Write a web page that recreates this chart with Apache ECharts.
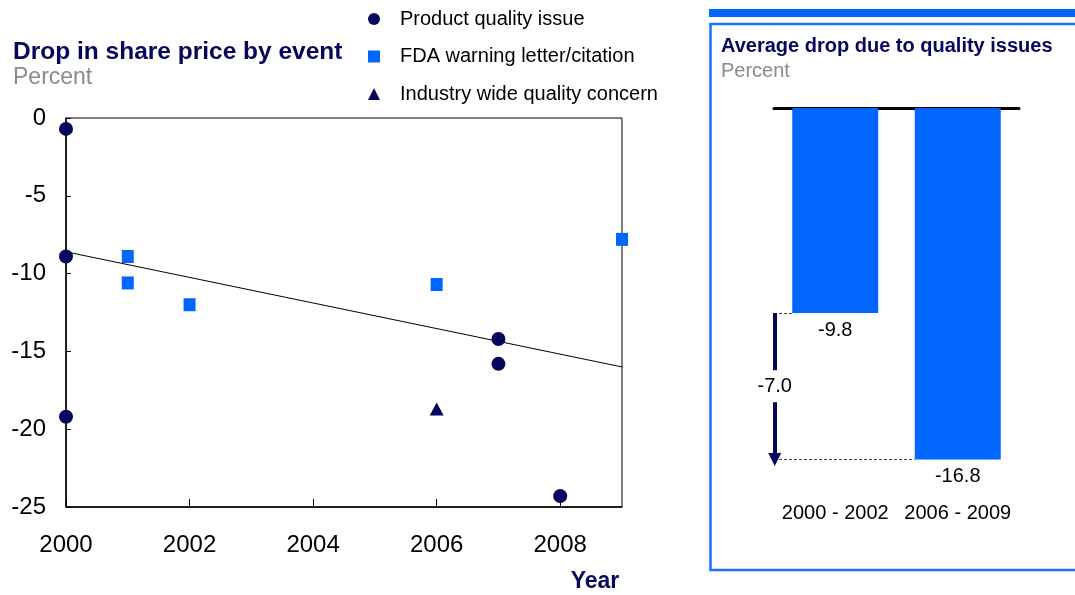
<!DOCTYPE html>
<html>
<head>
<meta charset="utf-8">
<script src="https://cdn.jsdelivr.net/npm/echarts@6/dist/echarts.min.js"></script>
<style>
  html, body { margin: 0; padding: 0; background: #fff; }
  #chart { width: 1075px; height: 595px; }
</style>
</head>
<body>
<div id="chart"></div>
<script>
// ---- Data (left chart: drop in share price by event) ----
const productYears   = [2000, 2000, 2000, 2007, 2007, 2008];
const productValues  = [-0.7, -8.9, -19.2, -14.2, -15.8, -24.3];
const fdaYears       = [2001, 2001, 2002, 2006, 2009];
const fdaValues      = [-8.9, -10.6, -12.0, -10.7, -7.8];
const industryYears  = [2006];
const industryValues = [-18.7];
const trendYears     = [2000, 2009];
const trendValues    = [-8.6, -16.0];
const xTicks         = [2000, 2002, 2004, 2006, 2008];
const yTicks         = [0, -5, -10, -15, -20, -25];
const seriesNames    = ['Product quality issue', 'FDA warning letter/citation', 'Industry wide quality concern'];

// ---- Data (right chart: average drop due to quality issues) ----
const periods  = ['2000 - 2002', '2006 - 2009'];
const averages = [-9.8, -16.8];

const FONT = 'Liberation Sans, Arial, sans-serif';
const NAVY = '#06065c';
const BLUE = '#0066ff';
const GREY = '#8a8a8a';

const pairs = (xs, ys) => xs.map((x, i) => [x, ys[i]]);
const diff = (averages[1] - averages[0]).toFixed(1);
const mid = (averages[0] + averages[1]) / 2;
// hidden helper value axis over the right grid: category i spans [i, i+1]
const halfBar = 43 / 122.5;
const arrowX = 0.006;
const guideStart = 0;

const chart = echarts.init(document.getElementById('chart'), null, { renderer: 'canvas' });

const option = {
  animation: false,
  textStyle: { fontFamily: FONT },
  title: [
    { text: 'Drop in share price by event', left: 13, top: 40, padding: 0,
      textStyle: { fontFamily: FONT, fontSize: 24.5, fontWeight: 'bold', color: NAVY, lineHeight: 24 } },
    { text: 'Percent', left: 13, top: 66, padding: 0,
      textStyle: { fontFamily: FONT, fontSize: 23, fontWeight: 'normal', color: GREY, lineHeight: 24 } },
    { text: 'Average drop due to quality issues', left: 721, top: 36, padding: 0,
      textStyle: { fontFamily: FONT, fontSize: 20, fontWeight: 'bold', color: NAVY, lineHeight: 20 } },
    { text: 'Percent', left: 721, top: 61, padding: 0,
      textStyle: { fontFamily: FONT, fontSize: 20, fontWeight: 'normal', color: GREY, lineHeight: 20 } }
  ],
  legend: {
    orient: 'vertical',
    left: 368, top: 7,
    padding: 0,
    itemWidth: 12, itemHeight: 12,
    itemGap: 13.5,
    data: seriesNames,
    textStyle: { fontFamily: FONT, fontSize: 20, color: '#000', lineHeight: 24, padding: [0, 0, 0, 15] }
  },
  graphic: [
    { type: 'rect', shape: { x: 709, y: 9, width: 370, height: 8 }, style: { fill: BLUE }, silent: true },
    { type: 'rect', shape: { x: 710.5, y: 24, width: 400, height: 546 },
      style: { fill: 'none', stroke: '#1a72ff', lineWidth: 2.5 }, silent: true },
    { type: 'text', x: 595, y: 582,
      style: { text: 'Year', fontFamily: FONT, fontSize: 23, fontWeight: 'bold', fill: NAVY,
               align: 'center', verticalAlign: 'middle' } }
  ],
  grid: [
    { left: 66, top: 118, width: 556, height: 389, show: true, borderColor: '#000', borderWidth: 1, backgroundColor: 'transparent' },
    { left: 774, top: 108, width: 245, height: 387 }
  ],
  xAxis: [
    { type: 'value', gridIndex: 0, min: 2000, max: 2009, interval: 2, position: 'bottom',
      axisLine: { show: true, onZero: false, lineStyle: { color: '#000', width: 1.5 } },
      axisTick: { show: true, inside: true, length: 8, lineStyle: { color: '#000' } },
      splitLine: { show: false },
      axisLabel: { fontFamily: FONT, fontSize: 24, color: '#000', margin: 26, showMaxLabel: false,
        formatter: v => (xTicks.indexOf(v) >= 0 ? String(v) : '') } },
    { type: 'category', gridIndex: 1, position: 'bottom', data: periods,
      axisLine: { show: false, onZero: false }, axisTick: { show: false },
      axisLabel: { fontFamily: FONT, fontSize: 20, color: '#000', margin: 8, interval: 0 } },
    { type: 'category', gridIndex: 1, position: 'top', data: periods,
      axisLine: { show: true, onZero: false, lineStyle: { color: '#000', width: 3 } },
      axisTick: { show: false }, axisLabel: { show: false } },
    { type: 'value', gridIndex: 1, min: 0, max: 2, show: false }
  ],
  yAxis: [
    { type: 'value', gridIndex: 0, min: -25, max: 0, interval: 5,
      axisLine: { show: true, onZero: false, lineStyle: { color: '#000', width: 1.5 } },
      axisTick: { show: true, inside: true, length: 5, lineStyle: { color: '#000' } },
      splitLine: { show: false },
      axisLabel: { fontFamily: FONT, fontSize: 24, color: '#000', margin: 20,
        formatter: v => (yTicks.indexOf(v) >= 0 ? String(v) : '') } },
    { type: 'value', gridIndex: 1, min: -18.5, max: 0, show: false }
  ],
  series: [
    { name: 'trend', type: 'line', xAxisIndex: 0, yAxisIndex: 0,
      data: pairs(trendYears, trendValues), symbol: 'none', silent: true, z: 1,
      lineStyle: { color: '#000', width: 1 } },
    { name: seriesNames[0], type: 'scatter', xAxisIndex: 0, yAxisIndex: 0, clip: false,
      data: pairs(productYears, productValues), symbol: 'circle', symbolSize: 14,
      itemStyle: { color: NAVY, opacity: 1 } },
    { name: seriesNames[1], type: 'scatter', xAxisIndex: 0, yAxisIndex: 0, clip: false,
      data: pairs(fdaYears, fdaValues), symbol: 'rect', symbolSize: [12, 13],
      itemStyle: { color: BLUE, opacity: 1 } },
    { name: seriesNames[2], type: 'scatter', xAxisIndex: 0, yAxisIndex: 0, clip: false,
      data: pairs(industryYears, industryValues), symbol: 'triangle', symbolSize: [14, 13],
      itemStyle: { color: NAVY, opacity: 1 } },
    { name: 'average', type: 'bar', xAxisIndex: 1, yAxisIndex: 1,
      data: averages, barWidth: 86,
      itemStyle: { color: BLUE },
      label: { show: true, position: 'bottom', distance: 7, fontFamily: FONT, fontSize: 20, color: '#000',
        formatter: p => p.value.toFixed(1) } },
    { name: 'change', type: 'line', xAxisIndex: 3, yAxisIndex: 1,
      data: [[arrowX, averages[0]], [arrowX, averages[1]]],
      symbol: 'none', lineStyle: { opacity: 0 }, silent: true, z: 5,
      markLine: {
        silent: true, animation: false, symbol: ['none', 'none'],
        label: { show: false },
        lineStyle: { color: '#444', width: 1, type: [3, 2] },
        data: [
          [{ coord: [guideStart, averages[0]] }, { coord: [0.5 - halfBar, averages[0]] }],
          [{ coord: [guideStart, averages[1]] }, { coord: [1.5 - halfBar, averages[1]] }],
          [{ coord: [arrowX, averages[0]], symbol: 'none' },
           { coord: [arrowX, averages[1]], symbol: 'triangle', symbolSize: 13,
             lineStyle: { color: NAVY, width: 4, type: 'solid' } }]
        ]
      },
      markPoint: {
        silent: true, animation: false,
        data: [{ coord: [arrowX, mid], symbol: 'rect', symbolSize: 1,
          itemStyle: { color: 'rgba(0,0,0,0)' },
          label: { show: true, position: 'inside', formatter: diff, fontFamily: FONT, fontSize: 20,
                   color: '#000', backgroundColor: '#fff', padding: [6, 1] } }]
      }
    }
  ]
};
chart.setOption(option);
</script>
</body>
</html>
